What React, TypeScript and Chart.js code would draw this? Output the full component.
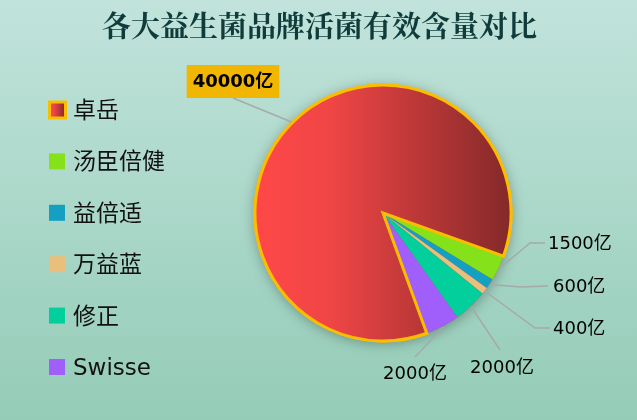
import { useEffect, useRef } from "react";
import { Chart, registerables } from "chart.js";

Chart.register(...registerables);

// ---- data ----
const titleText = "各大益生菌品牌活菌有效含量对比";
const categories = ["卓岳", "汤臣倍健", "益倍适", "万益蓝", "修正", "Swisse"];
const values = [40000, 1500, 600, 400, 2000, 2000];
const unit = "亿";
const colors = ["#f94646", "#84e11a", "#13a0c2", "#e8c07c", "#03cf9c", "#a05efb"];

// ---- layout / style constants ----
const PIE_R = 128;
const BORDER_COLOR = "#fbbd00";
const LINE_COLOR = "rgba(165,168,166,0.95)";
const FONT = '"DejaVu Sans", "Noto Sans CJK SC", sans-serif';
const TITLE_FONT = '"Noto Serif CJK SC", "Noto Sans CJK SC", serif';
const LEGEND_X = 49;
const LEGEND_TOP = 110;
const LEGEND_STEP = 51.4;

// leader-line elbows / text anchors, offsets from pie centre
const labelLayout: { pts: number[][]; text: number[]; align: CanvasTextAlign; box?: boolean }[] = [
  { pts: [[-150, -115]], text: [-150, -131.5], align: "center", box: true },
  { pts: [[147, 30], [162, 30]], text: [165, 30], align: "left" },
  { pts: [[137, 74], [165, 73]], text: [170, 73], align: "left" },
  { pts: [[152, 115], [167, 115]], text: [170, 115], align: "left" },
  { pts: [[117, 137]], text: [119, 154], align: "center" },
  { pts: [[32, 144]], text: [32, 160], align: "center" },
];

function redGradient(ctx: CanvasRenderingContext2D, x0: number, x1: number) {
  const g = ctx.createLinearGradient(x0, 0, x1, 0);
  g.addColorStop(0, "#ff4848");
  g.addColorStop(0.3, "#ef4545");
  g.addColorStop(1, "#842929");
  return g;
}

const pieShadow = {
  id: "pieShadow",
  beforeDatasetsDraw(chart: any) {
    const el = chart.getDatasetMeta(0).data[0];
    if (!el) return;
    const ctx = chart.ctx;
    ctx.save();
    ctx.shadowColor = "rgba(0,0,0,0.35)";
    ctx.shadowBlur = 14;
    ctx.shadowOffsetY = 2;
    ctx.beginPath();
    ctx.arc(el.x, el.y, el.outerRadius, 0, Math.PI * 2);
    ctx.fillStyle = "#d04040";
    ctx.fill();
    ctx.restore();
  },
  afterDatasetsDraw(chart: any) {
    const el = chart.getDatasetMeta(0).data[0];
    if (!el) return;
    chart.ctx.save();
    el.draw(chart.ctx);
    chart.ctx.restore();
  },
};

const outsideLabels = {
  id: "outsideLabels",
  afterDraw(chart: any) {
    const ctx: CanvasRenderingContext2D = chart.ctx;
    const meta = chart.getDatasetMeta(0);
    meta.data.forEach((arc: any, i: number) => {
      const { x, y, startAngle, endAngle, outerRadius } = arc.getProps(
        ["x", "y", "startAngle", "endAngle", "outerRadius"],
        true
      );
      const mid = (startAngle + endAngle) / 2;
      const L = labelLayout[i];
      ctx.save();
      ctx.strokeStyle = LINE_COLOR;
      ctx.lineWidth = 1.5;
      ctx.beginPath();
      ctx.moveTo(x + Math.cos(mid) * (outerRadius + 1), y + Math.sin(mid) * (outerRadius + 1));
      L.pts.forEach(([dx, dy]) => ctx.lineTo(x + dx, y + dy));
      ctx.stroke();

      const text = `${values[i]}${unit}`;
      const tx = x + L.text[0];
      const ty = y + L.text[1];
      ctx.textBaseline = "middle";
      ctx.textAlign = L.align;
      if (L.box) {
        ctx.font = `bold 18px ${FONT}`;
        const w = ctx.measureText(text).width;
        ctx.fillStyle = "#f1b600";
        ctx.fillRect(tx - w / 2 - 6, ty - 16.5, w + 12, 33);
        ctx.fillStyle = "#000";
        ctx.fillText(text, tx, ty + 1);
      } else {
        ctx.font = `18px ${FONT}`;
        ctx.fillStyle = "#000";
        ctx.fillText(text, tx, ty + 1);
      }
      ctx.restore();
    });
  },
};

const sideLegend = {
  id: "sideLegend",
  afterDraw(chart: any) {
    const ctx: CanvasRenderingContext2D = chart.ctx;
    ctx.save();
    // title, centred on the whole canvas
    ctx.font = `bold 29px ${TITLE_FONT}`;
    ctx.fillStyle = "#0f3b3b";
    ctx.textAlign = "center";
    ctx.textBaseline = "middle";
    ctx.fillText(titleText, chart.width / 2 + 1, 26);

    categories.forEach((name, i) => {
      const cy = LEGEND_TOP + i * LEGEND_STEP;
      if (i === 0) {
        ctx.fillStyle = redGradient(ctx, LEGEND_X, LEGEND_X + 16);
        ctx.fillRect(LEGEND_X + 0.5, cy - 8, 16, 16);
        ctx.strokeStyle = BORDER_COLOR;
        ctx.lineWidth = 3;
        ctx.strokeRect(LEGEND_X + 0.5, cy - 8, 16, 16);
      } else {
        ctx.fillStyle = colors[i];
        ctx.fillRect(LEGEND_X, cy - 8, 16, 16);
      }
      ctx.font = `23px ${FONT}`;
      ctx.fillStyle = "#111";
      ctx.textAlign = "left";
      ctx.textBaseline = "middle";
      ctx.fillText(name, LEGEND_X + 24, cy + 2);
    });
    ctx.restore();
  },
};

export default function App() {
  const ref = useRef<HTMLCanvasElement>(null);
  useEffect(() => {
    document.body.style.margin = "0";
    const chart = new Chart(ref.current!, {
      type: "pie",
      data: {
        labels: categories,
        datasets: [
          {
            data: values,
            radius: PIE_R,
            backgroundColor: (c: any) => {
              if (c.dataIndex !== 0) return colors[c.dataIndex];
              const a = c.chart.chartArea;
              if (!a) return colors[0];
              const cx = (a.left + a.right) / 2;
              return redGradient(c.chart.ctx, cx - PIE_R, cx + PIE_R);
            },
            borderColor: BORDER_COLOR,
            borderWidth: values.map((_, i) => (i === 0 ? 3 : 0)),
            borderJoinStyle: "miter",
          } as any,
        ],
      },
      options: {
        responsive: false,
        animation: false,
        events: [],
        rotation: 160,
        layout: { padding: { left: 140, right: 11, top: 52, bottom: 46 } },
        plugins: {
          legend: { display: false },
          tooltip: { enabled: false },
          title: { display: false },
        },
      },
      plugins: [pieShadow, outsideLabels, sideLegend],
    });
    return () => chart.destroy();
  }, []);
  return (
    <div
      style={{
        position: "fixed",
        left: 0,
        top: 0,
        width: 637,
        height: 420,
        background: "linear-gradient(180deg, #c1e3db 0%, #94ccb7 100%)",
      }}
    >
      <canvas ref={ref} width={637} height={420} style={{ display: "block" }} />
    </div>
  );
}
